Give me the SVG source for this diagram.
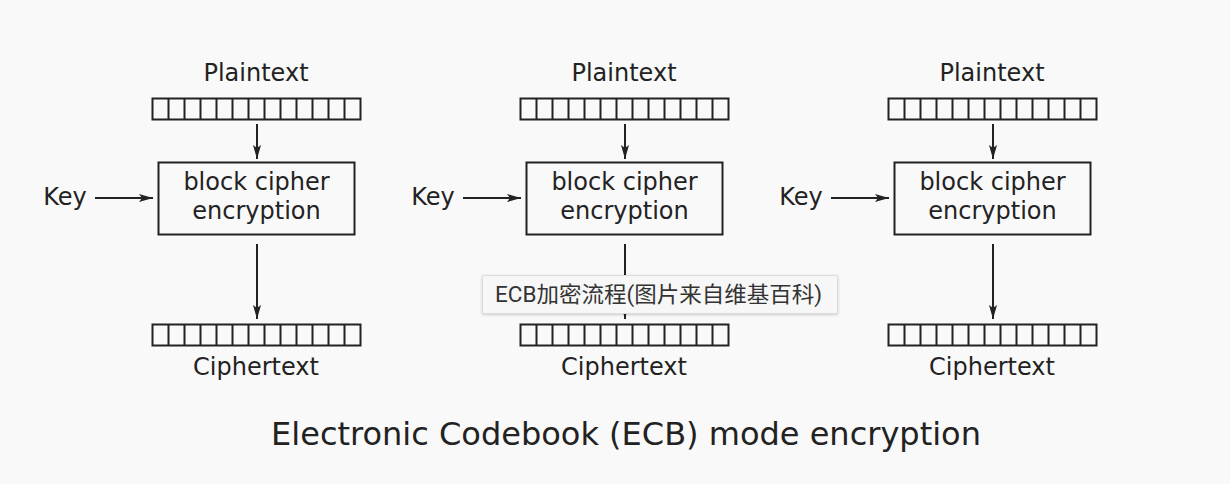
<svg xmlns="http://www.w3.org/2000/svg" width="1230" height="484" viewBox="0 0 1230 484">
<defs>
<style>
.t{font-family:"DejaVu Sans",sans-serif;fill:#222;}
.lbl{font-size:24px;text-anchor:middle;}
.box{fill:none;stroke:#222;stroke-width:2;}
.reg{fill:none;stroke:#222;stroke-width:2;}
.ln{stroke:#222;stroke-width:2;fill:none;}
</style>
<marker id="ah" viewBox="0 0 14 10" refX="14" refY="5" markerWidth="14" markerHeight="10" markerUnits="userSpaceOnUse" orient="auto">
<path d="M0,1 L14,5 L0,9 L3,5 Z" fill="#222"/>
</marker>
<filter id="sh" x="-10%" y="-40%" width="120%" height="180%">
<feDropShadow dx="0" dy="1" stdDeviation="1.5" flood-color="#000" flood-opacity="0.18"/>
</filter>
<g id="register">
<rect x="0" y="0" width="208" height="21" class="reg"/>
<path class="ln" d="M16,0V21M32,0V21M48,0V21M64,0V21M80,0V21M96,0V21M112,0V21M128,0V21M144,0V21M160,0V21M176,0V21M192,0V21"/>
</g>
</defs>
<rect width="1230" height="484" fill="#f9f9f9"/>

<g id="col1">
<text class="t lbl" x="256" y="81">Plaintext</text>
<use href="#register" x="152.5" y="98.5"/>
<rect class="box" x="158.5" y="162.5" width="196" height="72"/>
<text class="t lbl" x="256.5" y="190">block cipher</text>
<text class="t lbl" x="256.5" y="219">encryption</text>
<text class="t lbl" x="65" y="205">Key</text>
<use href="#register" x="152.5" y="324.5"/>
<text class="t lbl" x="256" y="375">Ciphertext</text>
</g>
<g id="col2">
<text class="t lbl" x="624" y="81">Plaintext</text>
<use href="#register" x="520.5" y="98.5"/>
<rect class="box" x="526.5" y="162.5" width="196" height="72"/>
<text class="t lbl" x="624.5" y="190">block cipher</text>
<text class="t lbl" x="624.5" y="219">encryption</text>
<text class="t lbl" x="433" y="205">Key</text>
<use href="#register" x="520.5" y="324.5"/>
<text class="t lbl" x="624" y="375">Ciphertext</text>
</g>
<g id="col3">
<text class="t lbl" x="992" y="81">Plaintext</text>
<use href="#register" x="888.5" y="98.5"/>
<rect class="box" x="894.5" y="162.5" width="196" height="72"/>
<text class="t lbl" x="992.5" y="190">block cipher</text>
<text class="t lbl" x="992.5" y="219">encryption</text>
<text class="t lbl" x="801" y="205">Key</text>
<use href="#register" x="888.5" y="324.5"/>
<text class="t lbl" x="992" y="375">Ciphertext</text>
</g>

<g id="connectors">
<path class="ln" marker-end="url(#ah)" d="M257,124V159"/>
<path class="ln" marker-end="url(#ah)" d="M95,198H153"/>
<path class="ln" marker-end="url(#ah)" d="M257,244V319"/>
<path class="ln" marker-end="url(#ah)" d="M625,124V159"/>
<path class="ln" marker-end="url(#ah)" d="M463,198H521"/>
<path class="ln" marker-end="url(#ah)" d="M625,244V319"/>
<path class="ln" marker-end="url(#ah)" d="M993,124V159"/>
<path class="ln" marker-end="url(#ah)" d="M831,198H889"/>
<path class="ln" marker-end="url(#ah)" d="M993,244V319"/>
</g>

<text id="title" class="t" x="626" y="445" font-size="32" text-anchor="middle">Electronic Codebook (ECB) mode encryption</text>

<g id="tooltip">
<rect x="482.5" y="275.5" width="355" height="38" fill="#f7f7f7" stroke="#dcdcdc" stroke-width="1" filter="url(#sh)"/>
<text x="495" y="302" font-family="Roboto,'Noto Sans CJK SC',sans-serif" font-size="21.5" fill="#333" textLength="327" lengthAdjust="spacingAndGlyphs">ECB加密流程(图片来自维基百科)</text>
</g>
</svg>
